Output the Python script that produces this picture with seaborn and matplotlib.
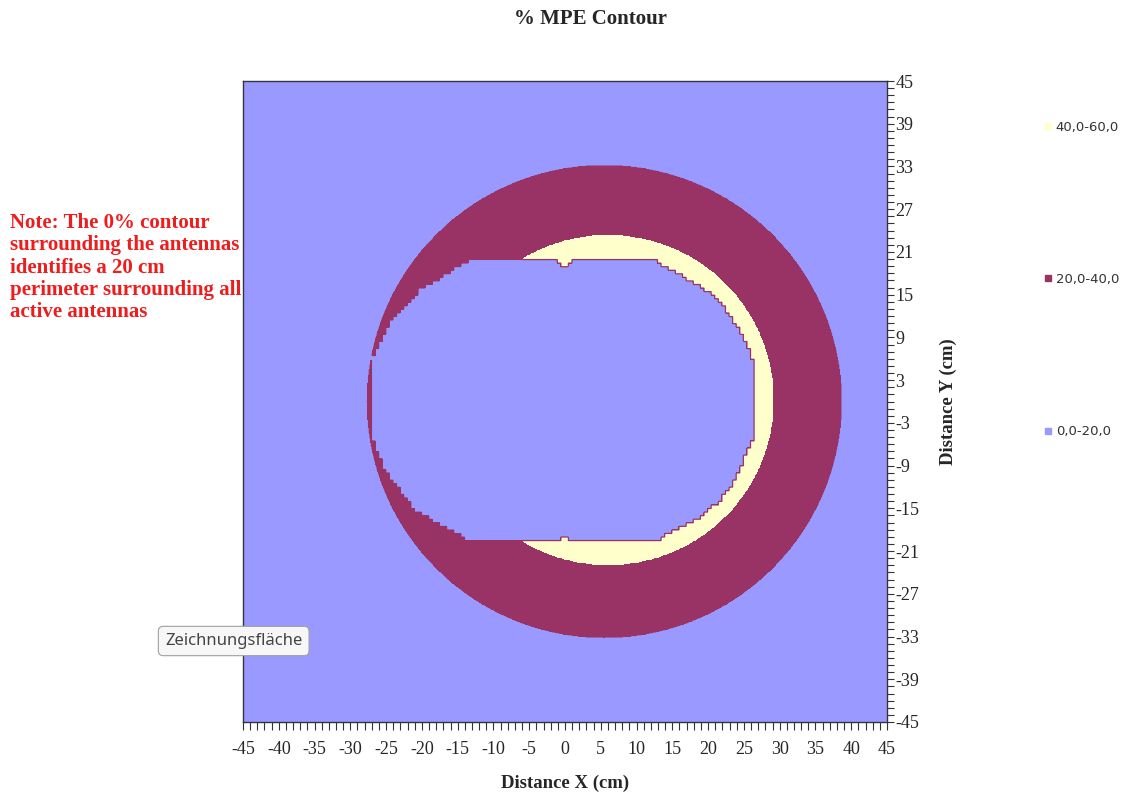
import numpy as np
import matplotlib
matplotlib.use("Agg")
import matplotlib.pyplot as plt
import seaborn as sns
from matplotlib.path import Path
from matplotlib.lines import Line2D
from matplotlib.ticker import MultipleLocator

sns.set_style("white")
plt.rcParams["font.family"] = ["Liberation Serif", "DejaVu Serif"]
plt.rcParams["axes.unicode_minus"] = False

# ---- data (cm) ----
levels = [0, 20, 40, 60]
level_labels = ["0,0-20,0", "20,0-40,0", "40,0-60,0"]
level_colors = ["#9999ff", "#993366", "#ffffcc"]

# 20-40 % zone: outer circle
ring_center = (5.5, 0.0)
ring_radius = 33.1
# 40-60 % zone: inner circle
hot_center = (6.0, 0.2)
hot_radius = 23.1

# 20 cm perimeter around the antennas (0-20 % inside), traced outline
perim_x = [-13.0, -1.0, 0.0, 1.0, 13.0, 14.0, 15.8, 18.2, 20.5, 22.4, 24.2, 25.6, 26.4,
           26.4, 25.7, 24.7, 23.3, 21.5, 19.1, 16.4, 13.6, 13.1,
           1.0, 0.0, -1.0, -13.4, -15.4, -18.2, -21.0, -23.2, -25.2, -26.4, -26.9,
           -26.9, -25.6, -24.2, -22.8, -20.0, -18.6, -15.8]
perim_y = [19.9, 19.9, 19.0, 19.9, 19.9, 18.9, 18.1, 16.6, 15.2, 13.3, 10.4, 7.6, 5.8,
           -5.2, -6.6, -9.0, -11.8, -14.1, -16.1, -17.5, -18.9, -19.6,
           -19.6, -18.7, -19.6, -19.6, -18.3, -16.9, -15.1, -12.3, -9.4, -6.6, -4.8,
           6.2, 9.0, 11.4, 12.8, 16.1, 16.6, 18.5]

# ---- build the %MPE grid ----
g = np.linspace(-45, 45, 901)
X, Y = np.meshgrid(g, g)
Z = np.full(X.shape, 10.0)
Z[(X - ring_center[0])**2 + (Y - ring_center[1])**2 <= ring_radius**2] = 30.0
Z[(X - hot_center[0])**2 + (Y - hot_center[1])**2 <= hot_radius**2] = 50.0
# the perimeter is sampled on a 0.5 cm grid (stair-stepped edge like the original)
Xs = np.floor(X * 2) / 2 + 0.25
Ys = np.floor(Y * 2) / 2 + 0.25
perim = Path(np.column_stack([perim_x, perim_y]))
inside = perim.contains_points(np.column_stack([Xs.ravel(), Ys.ravel()])).reshape(X.shape)
Z[inside] = 10.0

fig = plt.figure(figsize=(11.32, 8), dpi=100)
ax = fig.add_axes([243 / 1132, 1 - 722 / 800, 644 / 1132, 641 / 800])
ax.contourf(X, Y, Z, levels=levels, colors=level_colors)
ax.contour(X, Y, Z, levels=[20], colors=[level_colors[1]], linewidths=0.9)

ax.set_xlim(-45, 45)
ax.set_ylim(-45, 45)
ax.xaxis.set_major_locator(MultipleLocator(5))
ax.xaxis.set_minor_locator(MultipleLocator(1))
ax.set_yticks(np.arange(-45, 46, 6))
ax.yaxis.set_minor_locator(MultipleLocator(1))
ax.yaxis.tick_right()
ax.yaxis.set_label_position("right")
ax.tick_params(which="both", direction="out", color="#333333", width=0.8, labelsize=13)
ax.tick_params(axis="x", which="both", bottom=True, length=6, pad=8)
ax.tick_params(axis="y", which="both", right=True, left=False, length=5, pad=1)
for s in ax.spines.values():
    s.set_color("#333344")
    s.set_linewidth(1.0)

ax.set_xlabel("Distance X (cm)", fontsize=13.5, fontweight="bold", labelpad=12)
ax.set_ylabel("Distance Y (cm)", fontsize=13.5, fontweight="bold", labelpad=15)

fig.text(591 / 1132, 1 - 19 / 800, "% MPE Contour", ha="center", va="center",
         fontsize=15, fontweight="bold")

note = ("Note: The 0% contour\nsurrounding the antennas\nidentifies a 20 cm\n"
        "perimeter surrounding all\nactive antennas")
fig.text(10 / 1132, 1 - 213 / 800, note, ha="left", va="top", color="#ee1c1c",
         fontsize=15, fontweight="bold", linespacing=1.155)

handles = [Line2D([], [], marker="s", linestyle="none", markersize=5,
                  markerfacecolor=c, markeredgecolor=c) for c in level_colors[::-1]]
fig.legend(handles, level_labels[::-1], loc="upper left",
           bbox_to_anchor=(1032 / 1132, 1 - 109 / 800), frameon=False,
           prop={"family": "DejaVu Sans", "size": 9.5}, labelcolor="#333333",
           handlelength=0.6, handletextpad=0.3, labelspacing=10.55)

fig.text(165 / 1132, 1 - 641 / 800, "Zeichnungsfläche", ha="left", va="center",
         fontsize=12, color="#444444", family=["Noto Sans", "DejaVu Sans"],
         bbox=dict(boxstyle="round,pad=0.4,rounding_size=0.3", facecolor="#f7f7f7",
                   edgecolor="#a0a0a0", linewidth=0.8))

fig.savefig("out.png", dpi=100)
